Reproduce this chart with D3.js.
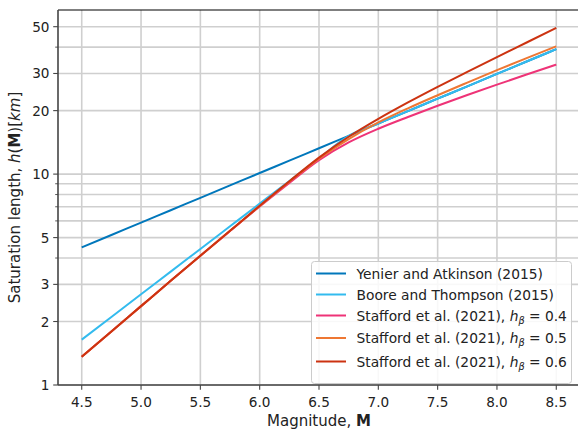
<!DOCTYPE html>
<html>
<head>
<meta charset="utf-8">
<script src="https://cdn.jsdelivr.net/npm/d3@7"></script>
<style>
  html, body { margin: 0; padding: 0; background: #fff; }
  svg { display: block; font-family: "DejaVu Sans", sans-serif; }
</style>
</head>
<body>
<svg id="chart" width="578" height="430"></svg>
<script>
// Magnitudes at which each saturation-length model is tabulated
const magnitudes = [4.5, 4.75, 5.0, 5.25, 5.5, 5.75, 6.0, 6.25, 6.5, 6.75, 7.0, 7.25, 7.5, 7.75, 8.0, 8.25, 8.5];

// h(M) in km
const yenierAtkinson = [4.493, 5.144, 5.888, 6.742, 7.718, 8.837, 10.12, 11.58, 13.26, 15.18, 17.38, 19.90, 22.78, 26.08, 29.85, 34.18, 39.13];
const booreThompson  = [1.641, 2.101, 2.692, 3.447, 4.416, 5.656, 7.244, 9.279, 11.89, 15.18, 17.38, 19.90, 22.78, 26.08, 29.85, 34.18, 39.13];
const stafford04     = [1.361, 1.795, 2.366, 3.119, 4.102, 5.370, 7.015, 9.078, 11.64, 14.13, 16.41, 18.66, 21.09, 23.71, 26.55, 29.65, 33.04];
const stafford05     = [1.361, 1.795, 2.366, 3.119, 4.102, 5.383, 7.063, 9.204, 11.83, 14.66, 17.58, 20.51, 23.66, 27.16, 31.12, 35.48, 40.36];
const stafford06     = [1.361, 1.795, 2.366, 3.119, 4.102, 5.383, 7.079, 9.247, 11.97, 15.03, 18.28, 21.88, 25.94, 30.55, 35.89, 42.07, 49.32];

const seriesValues = [yenierAtkinson, booreThompson, stafford04, stafford05, stafford06];
const seriesColors = ["#0077bb", "#33bbee", "#ee3377", "#ee7733", "#cc3311"];
const seriesLabels = [
  { text: "Yenier and Atkinson (2015)" },
  { text: "Boore and Thompson (2015)" },
  { text: "Stafford et al. (2021), ", hb: "0.4" },
  { text: "Stafford et al. (2021), ", hb: "0.5" },
  { text: "Stafford et al. (2021), ", hb: "0.6" }
];

// Axis ticks
const xTicks = [4.5, 5.0, 5.5, 6.0, 6.5, 7.0, 7.5, 8.0, 8.5];
const yTicksLabelled = [1, 2, 3, 5, 10, 20, 30, 50];
const yTicksMinor = [4, 6, 7, 8, 9, 40];

const svg = d3.select("#chart");
const plot = { left: 58, right: 580, top: 10, bottom: 385 };

const x = d3.scaleLinear().domain([4.3, 8.7]).range([plot.left, plot.right]);
const y = d3.scaleLog().domain([1, 60]).range([plot.bottom, plot.top]);

const gridColor = "#cfcfcf";
const textColor = "#222";

// Grid
const grid = svg.append("g");
grid.selectAll("line.v").data(xTicks).join("line")
  .attr("x1", d => x(d)).attr("x2", d => x(d))
  .attr("y1", plot.top).attr("y2", plot.bottom)
  .attr("stroke", gridColor).attr("stroke-width", 1.6);
grid.selectAll("line.h").data(yTicksLabelled.concat(yTicksMinor)).join("line")
  .attr("x1", plot.left).attr("x2", plot.right)
  .attr("y1", d => y(d)).attr("y2", d => y(d))
  .attr("stroke", gridColor).attr("stroke-width", 1.6);

// Curves
const line = d3.line()
  .x(d => x(d[0]))
  .y(d => y(d[1]))
  .curve(d3.curveMonotoneX);

const curves = svg.append("g");
seriesValues.forEach((vals, i) => {
  curves.append("path")
    .datum(magnitudes.map((m, j) => [m, vals[j]]))
    .attr("d", line)
    .attr("fill", "none")
    .attr("stroke", seriesColors[i])
    .attr("stroke-width", 2)
    .attr("stroke-linejoin", "round");
});

// Spines
svg.append("line").attr("x1", plot.left).attr("x2", plot.right)
  .attr("y1", plot.top).attr("y2", plot.top)
  .attr("stroke", "#000").attr("stroke-width", 1.1);
svg.append("line").attr("x1", plot.left).attr("x2", plot.left)
  .attr("y1", plot.top).attr("y2", plot.bottom)
  .attr("stroke", "#444").attr("stroke-width", 1.6);
svg.append("line").attr("x1", plot.left).attr("x2", plot.right)
  .attr("y1", plot.bottom).attr("y2", plot.bottom)
  .attr("stroke", "#444").attr("stroke-width", 1.6);

// X axis ticks and labels
const xAxis = svg.append("g");
xAxis.selectAll("line").data(xTicks).join("line")
  .attr("x1", d => x(d)).attr("x2", d => x(d))
  .attr("y1", plot.bottom).attr("y2", plot.bottom + 4.8)
  .attr("stroke", "#444").attr("stroke-width", 1.1);
xAxis.selectAll("text").data(xTicks).join("text")
  .attr("x", d => x(d)).attr("y", 406.5)
  .attr("text-anchor", "middle")
  .attr("font-size", 13.6).attr("fill", textColor)
  .text(d => d3.format(".1f")(d));

// Y axis ticks and labels
const yAxis = svg.append("g");
yAxis.selectAll("line.major").data(yTicksLabelled).join("line")
  .attr("x1", plot.left - 4.8).attr("x2", plot.left)
  .attr("y1", d => y(d)).attr("y2", d => y(d))
  .attr("stroke", "#444").attr("stroke-width", 1.1);
yAxis.selectAll("line.minor").data(yTicksMinor).join("line")
  .attr("x1", plot.left - 2.8).attr("x2", plot.left)
  .attr("y1", d => y(d)).attr("y2", d => y(d))
  .attr("stroke", "#444").attr("stroke-width", 0.9);
yAxis.selectAll("text").data(yTicksLabelled).join("text")
  .attr("x", 49.5).attr("y", d => y(d) + 5)
  .attr("text-anchor", "end")
  .attr("font-size", 13.6).attr("fill", textColor)
  .text(d => String(d));

// Axis titles
const xTitle = svg.append("text")
  .attr("x", (plot.left + plot.right) / 2).attr("y", 426)
  .attr("text-anchor", "middle").attr("font-size", 15).attr("fill", textColor);
xTitle.append("tspan").text("Magnitude, ");
xTitle.append("tspan").attr("font-weight", "bold").text("M");

const yTitle = svg.append("text")
  .attr("transform", `translate(19.5,${(plot.top + plot.bottom) / 2}) rotate(-90)`)
  .attr("text-anchor", "middle").attr("font-size", 15).attr("fill", textColor);
yTitle.append("tspan").text("Saturation length, ");
yTitle.append("tspan").attr("font-style", "italic").text("h");
yTitle.append("tspan").text("(");
yTitle.append("tspan").attr("font-weight", "bold").text("M");
yTitle.append("tspan").text(")[");
yTitle.append("tspan").attr("font-style", "italic").text("km");
yTitle.append("tspan").text("]");

// Legend
const legend = svg.append("g");
legend.append("rect")
  .attr("x", 311.5).attr("y", 261.5).attr("width", 260).attr("height", 122)
  .attr("rx", 3).attr("fill", "#fff").attr("fill-opacity", 0.85)
  .attr("stroke", "#cccccc").attr("stroke-width", 1);
const rowY = [273.5, 294.5, 315.5, 338, 361.5];
seriesLabels.forEach((lab, i) => {
  legend.append("line")
    .attr("x1", 316).attr("x2", 346)
    .attr("y1", rowY[i]).attr("y2", rowY[i])
    .attr("stroke", seriesColors[i]).attr("stroke-width", 2);
  const t = legend.append("text")
    .attr("x", 356.5).attr("y", rowY[i] + 5)
    .attr("font-size", 13.8).attr("fill", textColor);
  t.append("tspan").text(lab.text);
  if (lab.hb) {
    t.append("tspan").attr("font-style", "italic").text("h");
    t.append("tspan").attr("font-style", "italic").attr("font-size", 9.7)
      .attr("dy", 3).text("β");
    t.append("tspan").attr("dy", -3).text(" = " + lab.hb);
  }
});
</script>
</body>
</html>
